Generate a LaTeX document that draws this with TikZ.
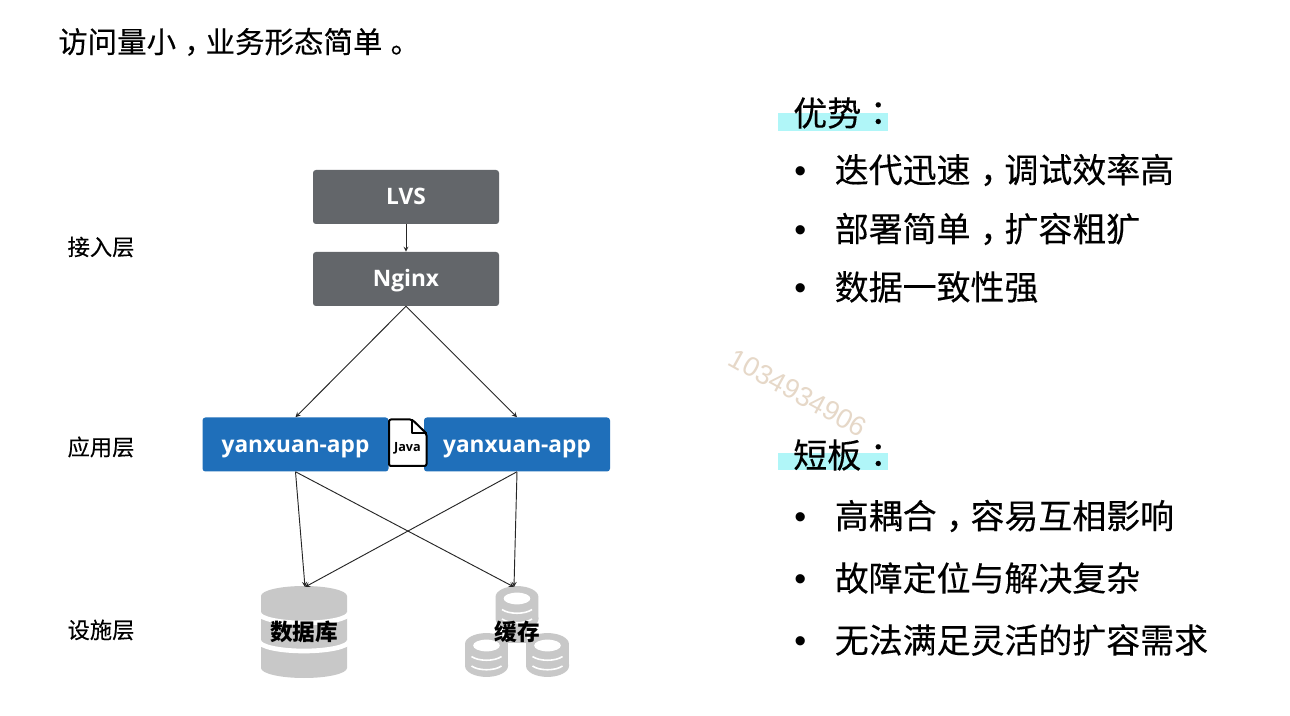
\documentclass[tikz,border=0pt]{standalone}
\usepackage{fontspec}
\setmainfont{Noto Sans CJK SC}[FakeBold=0.25,BoldFeatures={FakeBold=0}]
\newfontfamily\cjktc{Noto Sans CJK TC}[FakeBold=0.25]
\newfontfamily\latinfont{Open Sans}
\newfontfamily\markfont{Liberation Sans}
\tikzset{
  darkbox/.style={rectangle,rounded corners=2.2pt,fill=boxgray,text=white,minimum width=139.5pt,minimum height=40.5pt,inner sep=0pt,text height=11.4pt,text depth=0pt,font=\latinfont\bfseries\fontsize{17}{20}\selectfont},
  appbox/.style={darkbox,fill=boxblue},
  layertext/.style={anchor=center,inner sep=0pt,font=\fontsize{16.7}{20}\selectfont},
  storetext/.style={inner sep=0pt,font=\bfseries\fontsize{17}{20}\selectfont},
  headtext/.style={anchor=west,inner sep=0pt,font=\fontsize{25.5}{30}\selectfont},
  itemtext/.style={anchor=west,inner sep=0pt,font=\fontsize{25.45}{30}\selectfont},
  link/.style={->,>=stealth,black!85,line width=0.7pt},
}
\definecolor{boxgray}{HTML}{63666A}
\definecolor{boxblue}{HTML}{1F6FBA}
\definecolor{storegray}{HTML}{C8C8C8}
\definecolor{marker}{HTML}{B0F6F8}
\definecolor{stamp}{HTML}{E6D8C8}
\newcommand{\itemline}[1]{\makebox[30.4pt][l]{\markfont •}#1}
\newcommand{\midmark}[1]{\hspace{.28em}#1\hspace{-.28em}}
\begin{document}
\begin{tikzpicture}[x=0.75pt,y=-0.75pt]
\useasboundingbox (0,0) rectangle (1290,716);
\fill [white] (0,0) rectangle (1290,716);

\node (title) [anchor=west,inner sep=0pt,font=\fontsize{22.1}{26}\selectfont] at (58,42) {访问量小\midmark{，}业务形态简单\midmark{。}};

% left column
\node (access) [layertext] at (101,247) {接入层};
\node (application) [layertext] at (101,447) {应用层};
\node (facility) [layertext] at (101,630) {设施层};

\node (lvs) [darkbox] at (406,197) {LVS};
\node (nginx) [darkbox] at (406,279) {Nginx};
\node (appa) [appbox] at (295.5,444.5) {yanxuan-app};
\node (appb) [appbox] at (517,444.5) {yanxuan-app};

% java file
\draw [fill=white,line width=1.5pt,line join=round,rounded corners=1.5pt] (389,419.5)--(412,419.5)--(426.5,433.5)--(426.5,466)--(389,466)--cycle;
\draw [line width=1.5pt,line join=round] (412,419.5)--(412,433.5)--(426.5,433.5);
\node (java) [inner sep=0pt,font=\latinfont\bfseries\fontsize{9.5}{11}\selectfont] at (407.5,448) {Java};

% database
\fill [storegray] (261,596) arc[start angle=180,end angle=0,x radius=32.25pt,y radius=7.5pt]
  -- (347,668) arc[start angle=0,end angle=-180,x radius=32.25pt,y radius=7.5pt] -- cycle;
\foreach \ypos in {613,641}
  \draw [white,line width=3.5pt] (259,\ypos) arc[start angle=180,end angle=360,x radius=33.75pt,y radius=7.5pt];

% cache
\fill [storegray] (507,625) rectangle (527,643);
\foreach \xpos/\ypos in {517/586,486.5/633,547.5/633} {
  \fill [storegray] (\xpos-21.5,\ypos+11) arc[start angle=180,end angle=0,x radius=16.1pt,y radius=8.2pt]
    -- (\xpos+21.5,\ypos+33) arc[start angle=0,end angle=-180,x radius=16.1pt,y radius=8.2pt] -- cycle;
  \fill [white] (\xpos,\ypos+12.5) ellipse [x radius=10pt,y radius=4.4pt];
  \draw [white,line width=1.2pt] (\xpos-15,\ypos+23.5) .. controls (\xpos-8,\ypos+28.5) and (\xpos+8,\ypos+28.5) .. (\xpos+15,\ypos+23.5);
  \draw [white,line width=1.2pt] (\xpos-15,\ypos+33) .. controls (\xpos-8,\ypos+38) and (\xpos+8,\ypos+38) .. (\xpos+15,\ypos+33);
}
\node (db) [storetext] at (304,632) {数据库};
\node (cache) [storetext] at (517,632) {缓存};
\coordinate (dbin) at (305,587);
\coordinate (cachein) at (514,587);

\draw [link] (lvs.south)--(nginx.north);
\draw [link] (nginx.south)--(appa.north);
\draw [link] (nginx.south)--(appb.north);
\draw [link] (appa.south)--(dbin);
\draw [link] (appa.south)--(cachein);
\draw [link] (appb.south)--(dbin);
\draw [link] (appb.south)--(cachein);

% right column
\node (stampid) [text=stamp,rotate=-29,inner sep=0pt,font=\markfont\fontsize{20.5}{24}\selectfont] at (798,393) {1034934906};

\fill [marker] (778,113) rectangle (888,131);
\fill [marker] (778,453) rectangle (888,470);
\node (good) [headtext] at (793,113) {优势{\cjktc ：}};
\node (bad) [headtext] at (793,455) {短板{\cjktc ：}};

\node (gooda) [itemtext] at (794,170) {\itemline{迭代迅速\midmark{，}调试效率高}};
\node (goodb) [itemtext] at (794,229) {\itemline{部署简单\midmark{，}扩容粗犷}};
\node (goodc) [itemtext] at (794,287) {\itemline{数据一致性强}};
\node (bada) [itemtext] at (794,516) {\itemline{高耦合\midmark{，}容易互相影响}};
\node (badb) [itemtext] at (794,578) {\itemline{故障定位与解决复杂}};
\node (badc) [itemtext] at (794,640) {\itemline{无法满足灵活的扩容需求}};
\end{tikzpicture}
\end{document}
